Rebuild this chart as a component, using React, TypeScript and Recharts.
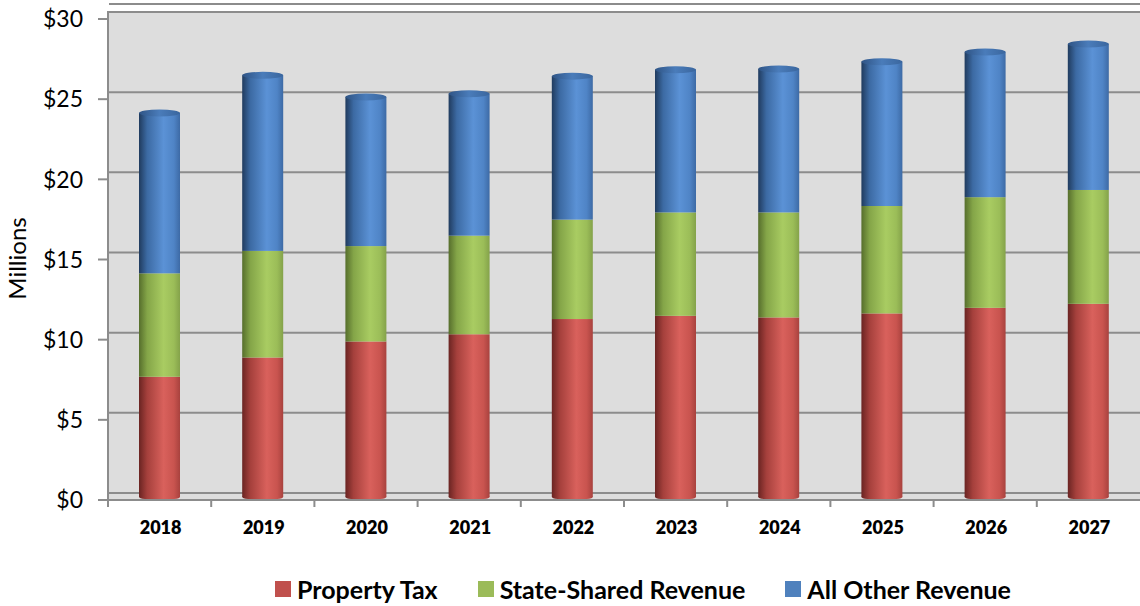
import React from 'react';
import {
  BarChart,
  Bar,
  XAxis,
  YAxis,
  CartesianGrid,
  Legend,
} from 'recharts';

// values in $ millions
const years = ['2018', '2019', '2020', '2021', '2022', '2023', '2024', '2025', '2026', '2027'];
const propertyTax = [7.5, 8.7, 9.7, 10.15, 11.1, 11.3, 11.2, 11.45, 11.8, 12.05];
const stateShared = [6.45, 6.65, 5.95, 6.15, 6.2, 6.45, 6.55, 6.7, 6.9, 7.1];
const allOther = [10.0, 10.95, 9.3, 8.85, 8.95, 8.9, 8.95, 9.0, 9.05, 9.1];
const yTicks = [0, 5, 10, 15, 20, 25, 30];

const data = years.map((year, i) => ({
  year,
  propertyTax: propertyTax[i],
  stateShared: stateShared[i],
  allOther: allOther[i],
}));

const FONT = 'Lato, "Open Sans", sans-serif';
const DEPTH = 7; // back wall offset of the 3D look
const BAND = 103.2;

const legendItems = [
  { label: 'Property Tax', color: '#c0504d' },
  { label: 'State-Shared Revenue', color: '#9bbb59' },
  { label: 'All Other Revenue', color: '#4f81bd' },
];

function Cylinder(props: any) {
  const { x, y, width, height, grad, cap, bottom } = props;
  if (!width || height == null) return null;
  const yy = y - 3;
  const cx = x + width / 2;
  return (
    <g>
      <rect x={x} y={yy} width={width} height={height} fill={`url(#${grad})`} />
      {bottom && <ellipse cx={cx} cy={yy + height} rx={width / 2} ry={3} fill={`url(#${grad})`} />}
      {cap && <ellipse cx={cx} cy={yy} rx={width / 2} ry={3.5} fill="url(#capBlue)" />}
    </g>
  );
}

function BackGridLine(props: any) {
  const { x1, x2, y1, y2, index } = props;
  return (
    <line
      key={`grid-${index}-${y1}`}
      x1={x1 + 1}
      x2={x2}
      y1={y1 - DEPTH}
      y2={y2 - DEPTH}
      stroke="#8c8c8c"
      strokeWidth={2}
    />
  );
}

function YearTick(props: any) {
  const { x, y, payload } = props;
  return (
    <g>
      <line x1={x - BAND / 2} x2={x - BAND / 2} y1={y} y2={y + 7} stroke="#8c8c8c" strokeWidth={2} />
      <text
        x={x + 1}
        y={y + 29}
        textAnchor="middle"
        dominantBaseline="middle"
        fontFamily={FONT}
        fontWeight={800}
        fontSize={18}
        fill="#000"
      >
        {payload.value}
      </text>
    </g>
  );
}

function LegendContent() {
  return (
    <div
      style={{
        display: 'flex',
        justifyContent: 'flex-start',
        paddingLeft: 275,
        gap: 40,
        fontFamily: FONT,
        fontWeight: 700,
        fontSize: 25,
        color: '#000',
      }}
    >
      {legendItems.map((it) => (
        <div key={it.label} style={{ display: 'flex', alignItems: 'center' }}>
          <span style={{ width: 16, height: 16, background: it.color, marginRight: 6, display: 'inline-block' }} />
          <span>{it.label}</span>
        </div>
      ))}
    </div>
  );
}

export default function App() {
  return (
    <div style={{ width: 1140, height: 606, position: 'relative', background: '#fff' }}>
      <style>{'body{margin:0}'}</style>
      <BarChart
        width={1140}
        height={606}
        data={data}
        margin={{ top: 11, right: 0, bottom: 66, left: 0 }}
        barSize={41}
      >
        <defs>
          <linearGradient id="gRed" x1="0" x2="1" y1="0" y2="0">
            <stop offset="0" stopColor="#6a2422" />
            <stop offset="0.2" stopColor="#a5403c" />
            <stop offset="0.6" stopColor="#d9615c" />
            <stop offset="0.85" stopColor="#c9544f" />
            <stop offset="1" stopColor="#a8423e" />
          </linearGradient>
          <linearGradient id="gGreen" x1="0" x2="1" y1="0" y2="0">
            <stop offset="0" stopColor="#566e2c" />
            <stop offset="0.2" stopColor="#84a548" />
            <stop offset="0.6" stopColor="#a9cc62" />
            <stop offset="0.85" stopColor="#9bbd58" />
            <stop offset="1" stopColor="#84a24a" />
          </linearGradient>
          <linearGradient id="gBlue" x1="0" x2="1" y1="0" y2="0">
            <stop offset="0" stopColor="#203b5e" />
            <stop offset="0.2" stopColor="#3c6aa3" />
            <stop offset="0.6" stopColor="#5b92d6" />
            <stop offset="0.85" stopColor="#4f84c6" />
            <stop offset="1" stopColor="#3d6aa5" />
          </linearGradient>
          <linearGradient id="capBlue" x1="0" x2="1" y1="0" y2="0">
            <stop offset="0" stopColor="#2f5485" />
            <stop offset="0.5" stopColor="#4a7cba" />
            <stop offset="1" stopColor="#3a669e" />
          </linearGradient>
        </defs>
        <CartesianGrid
          vertical={false}
          fill="#dddddd"
          horizontal={(p: any) => <BackGridLine {...p} />}
        />
        <XAxis
          dataKey="year"
          axisLine={{ stroke: '#8c8c8c', strokeWidth: 2 }}
          tickLine={false}
          tickSize={0}
          tickMargin={0}
          height={40}
          interval={0}
          tick={<YearTick />}
        />
        <YAxis
          width={108}
          domain={[0, 30.5]}
          ticks={yTicks}
          allowDataOverflow
          tickFormatter={(v: number) => `$${v}`}
          axisLine={{ stroke: '#8c8c8c', strokeWidth: 2 }}
          tickLine={{ stroke: '#8c8c8c', strokeWidth: 2 }}
          tickSize={10}
          tickMargin={15}
          tick={{ fontFamily: FONT, fontSize: 23, fill: '#000' }}
          label={{
            content: (p: any) => {
              const vb = p.viewBox || {};
              const cy = (vb.y ?? 11) + (vb.height ?? 489) / 2 + 3;
              return (
                <text
                  x={20}
                  y={cy}
                  transform={`rotate(-90 20 ${cy})`}
                  textAnchor="middle"
                  dominantBaseline="middle"
                  fontFamily={FONT}
                  fontSize={24}
                  fill="#000"
                >
                  Millions
                </text>
              );
            },
          }}
        />
        <Legend
          verticalAlign="middle"
          layout="horizontal"
          wrapperStyle={{ top: 574, left: 0, width: 1140, bottom: 'auto' }}
          content={<LegendContent />}
        />
        <Bar
          dataKey="propertyTax"
          stackId="a"
          fill="#c0504d"
          name="Property Tax"
          isAnimationActive={false}
          shape={(p: any) => <Cylinder {...p} grad="gRed" bottom />}
        />
        <Bar
          dataKey="stateShared"
          stackId="a"
          fill="#9bbb59"
          name="State-Shared Revenue"
          isAnimationActive={false}
          shape={(p: any) => <Cylinder {...p} grad="gGreen" />}
        />
        <Bar
          dataKey="allOther"
          stackId="a"
          fill="#4f81bd"
          name="All Other Revenue"
          isAnimationActive={false}
          shape={(p: any) => <Cylinder {...p} grad="gBlue" cap />}
        />
      </BarChart>
    </div>
  );
}
